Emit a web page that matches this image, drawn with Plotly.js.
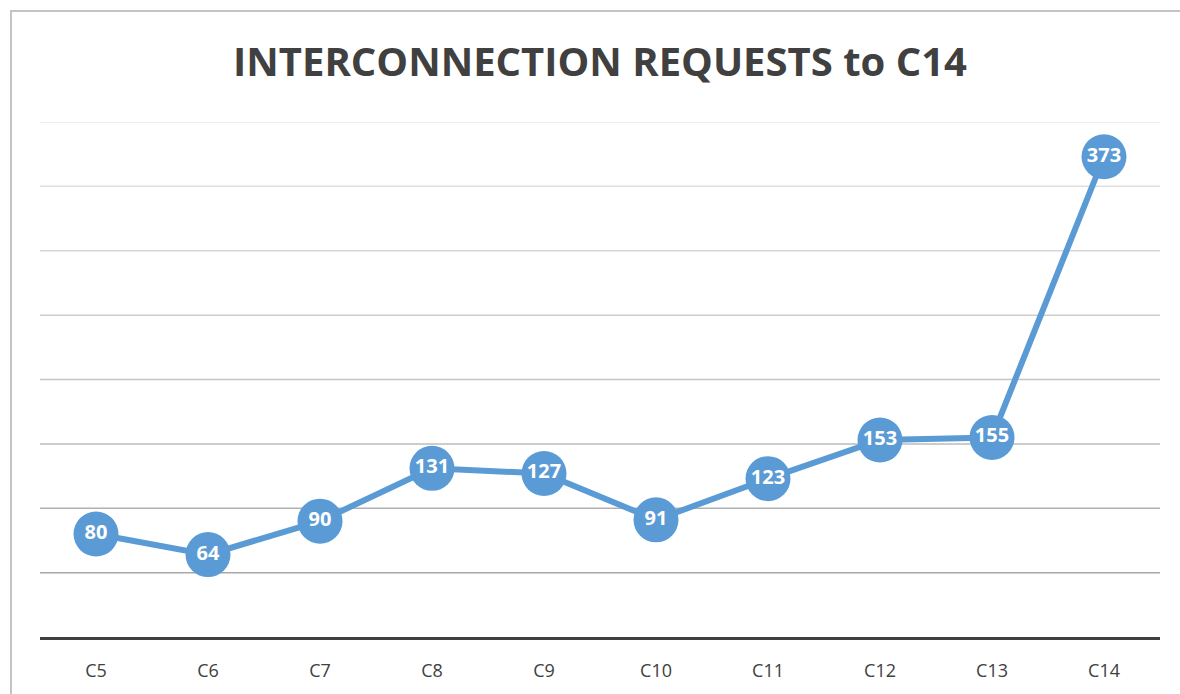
<!DOCTYPE html>
<html>
<head>
<meta charset="utf-8">
<script src="https://cdn.plot.ly/plotly-3.0.1.min.js"></script>
<style>
html,body{margin:0;padding:0;overflow:hidden;background:#fff;}
#wrap{position:relative;width:1180px;height:694px;overflow:hidden;}
#chart{position:absolute;left:0;top:0;width:1180px;height:694px;}
#frame{position:absolute;left:10px;top:10px;width:1300px;height:800px;border:2px solid #c4c4c4;pointer-events:none;}
</style>
</head>
<body>
<div id="wrap"><div id="chart"></div><div id="frame"></div></div>
<script>
const categories = ["C5","C6","C7","C8","C9","C10","C11","C12","C13","C14"];
const requests = [80,64,90,131,127,91,123,153,155,373];
const gridValues = [50,100,150,200,250,300,350,400];

function gridColor(v){
  const f = (v-50)/350;
  const c = Math.round(168 + f*(233-168));
  return 'rgb('+c+','+c+','+c+')';
}
const shapes = gridValues.map(v => ({
  type:'line', xref:'paper', yref:'y', x0:0, x1:1, y0:v, y1:v,
  line:{color:gridColor(v), width:1.5}, layer:'below'
}));

const trace = {
  x: categories, y: requests, type:'scatter', mode:'lines+markers+text',
  line:{color:'#5b9bd5', width:6},
  marker:{color:'#5b9bd5', size:45, line:{width:0}},
  text: requests.map(String), textposition:'middle center',
  textfont:{family:'Open Sans, sans-serif', size:20, color:'#ffffff', weight:'bold'},
  hoverinfo:'skip', cliponaxis:false
};

const layout = {
  width:1180, height:694,
  margin:{l:40, r:20, t:122, b:57},
  paper_bgcolor:'rgba(0,0,0,0)', plot_bgcolor:'rgba(0,0,0,0)',
  title:{text:'<b>INTERCONNECTION REQUESTS to C14</b>', x:0.5, xref:'paper', y:0.911, yref:'container', yanchor:'middle',
    font:{family:'Open Sans, sans-serif', size:40, color:'#404040'}},
  xaxis:{type:'category', range:[-0.5,9.5], showgrid:false, zeroline:false,
    showline:true, linecolor:'#404040', linewidth:3, ticks:'', ticklabelstandoff:15,
    tickfont:{family:'Open Sans, sans-serif', size:18, color:'#404040'}, fixedrange:true},
  yaxis:{range:[0,400], showgrid:false, zeroline:false, showticklabels:false, showline:false, fixedrange:true},
  shapes: shapes,
  showlegend:false
};
Plotly.newPlot('chart',[trace],layout,{displayModeBar:false, staticPlot:true});
</script>
</body>
</html>
